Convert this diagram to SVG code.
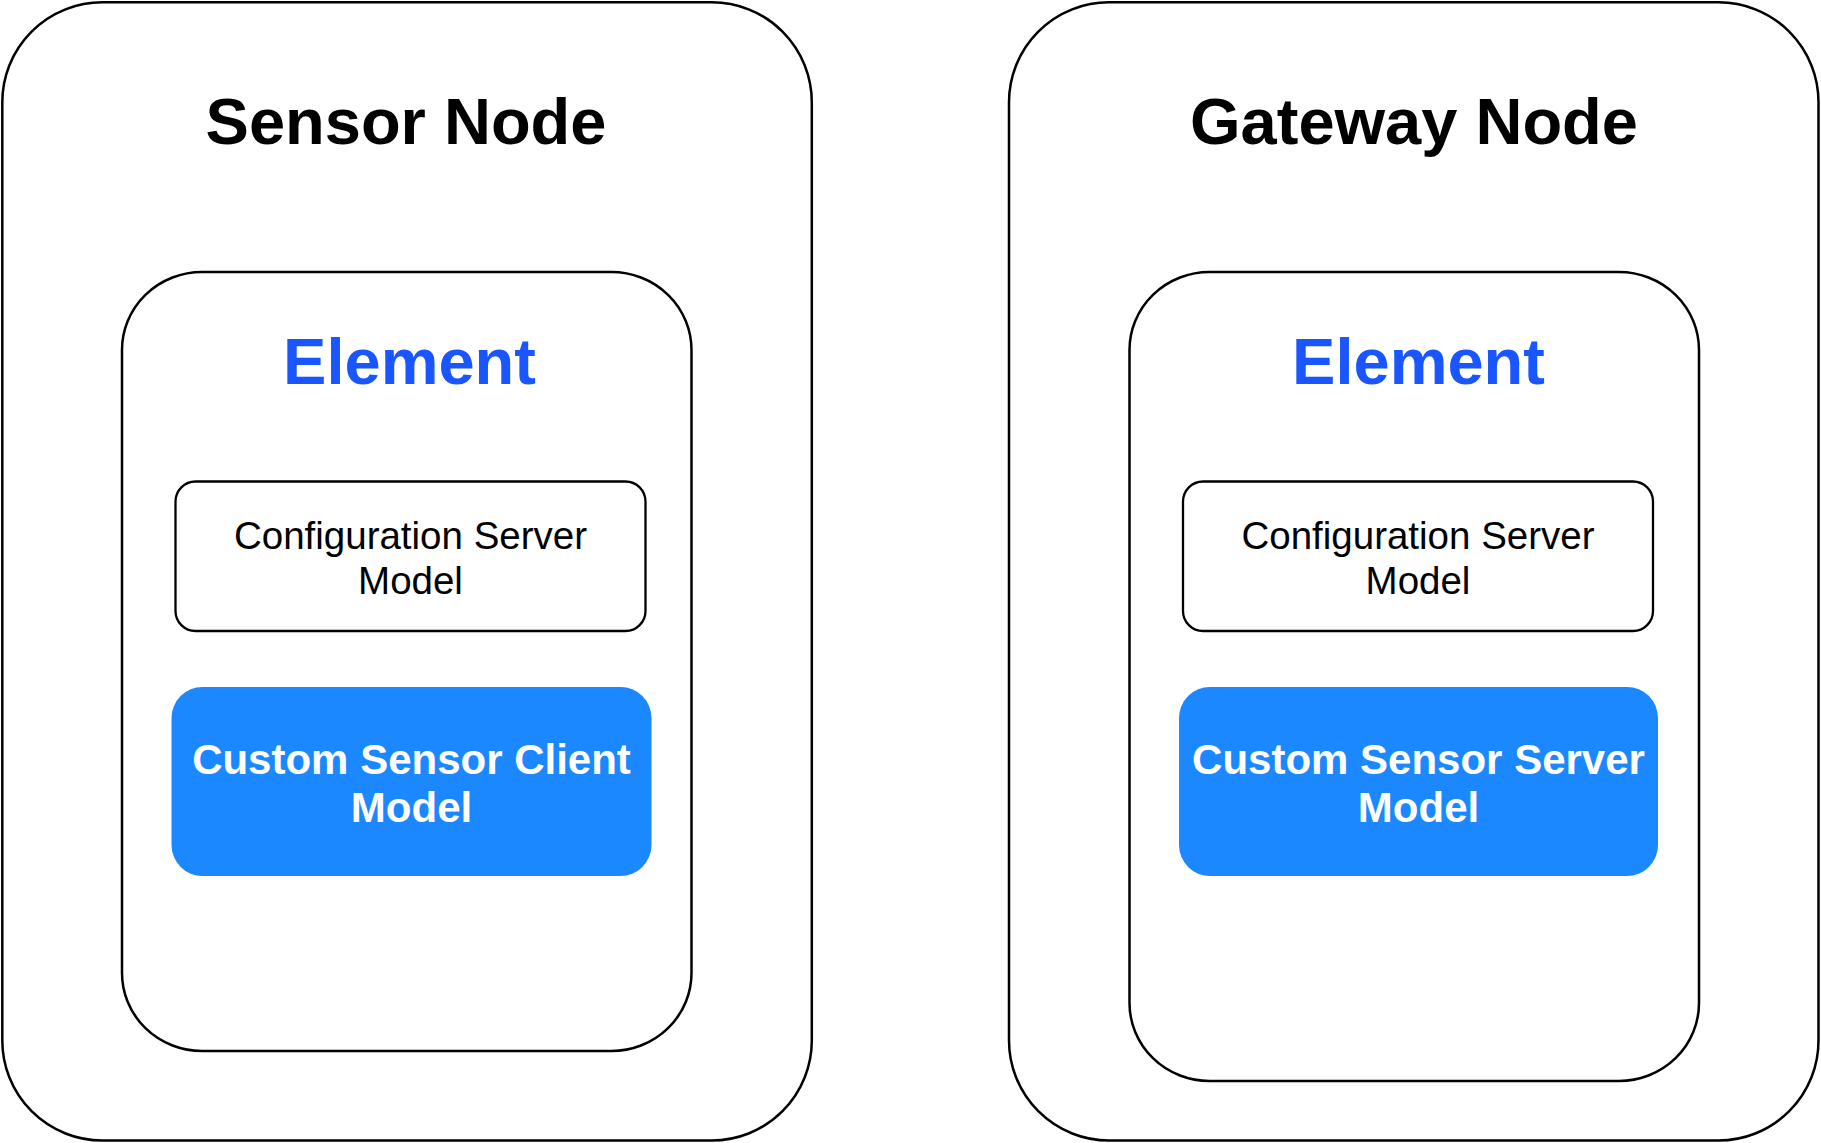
<svg xmlns="http://www.w3.org/2000/svg" width="1821" height="1143" viewBox="0 0 1821 1143">
<style>
.box{fill:#ffffff;stroke:#000000;stroke-width:2.5}
.model{fill:#ffffff;stroke:#000000;stroke-width:2.3}
.blue{fill:#1c88ff;stroke:none}
.title{font-family:"Liberation Sans",Arial,sans-serif;font-weight:bold;font-size:65px;fill:#000000;text-anchor:middle}
.elem{font-family:"Liberation Sans",Arial,sans-serif;font-weight:bold;font-size:65px;fill:#1a56ff;text-anchor:middle}
.cfg{font-family:"Liberation Sans",Arial,sans-serif;font-size:38.5px;fill:#000000;text-anchor:middle}
.cst{font-family:"Liberation Sans",Arial,sans-serif;font-weight:bold;font-size:42px;fill:#ffffff;text-anchor:middle}
</style>
<rect width="1821" height="1143" fill="#ffffff"/>
<g id="sensor-node">
<rect class="box" x="2.3" y="2.3" width="809.5" height="1138.2" rx="100" ry="100"/>
<text class="title" x="406" y="144">Sensor Node</text>
</g>
<g id="sensor-element">
<rect class="box" x="122" y="272" width="569.5" height="779" rx="80" ry="78"/>
<text class="elem" x="409.5" y="384">Element</text>
</g>
<g id="sensor-config">
<rect class="model" x="175.5" y="481.5" width="470" height="149.5" rx="20" ry="20"/>
<text class="cfg" x="410.5" y="549">Configuration Server</text>
<text class="cfg" x="410.5" y="594">Model</text>
</g>
<g id="sensor-client">
<rect class="blue" x="171.5" y="687" width="480" height="189" rx="31" ry="31"/>
<text class="cst" x="411.5" y="774">Custom Sensor Client</text>
<text class="cst" x="411.5" y="822">Model</text>
</g>
<g id="gateway-node">
<rect class="box" x="1009" y="2.3" width="809.5" height="1138.2" rx="100" ry="100"/>
<text class="title" x="1414" y="144">Gateway Node</text>
</g>
<g id="gateway-element">
<rect class="box" x="1129.5" y="272" width="569.5" height="809" rx="80" ry="78"/>
<text class="elem" x="1418.5" y="384">Element</text>
</g>
<g id="gateway-config">
<rect class="model" x="1183" y="481.5" width="470" height="149.5" rx="20" ry="20"/>
<text class="cfg" x="1418" y="549">Configuration Server</text>
<text class="cfg" x="1418" y="594">Model</text>
</g>
<g id="gateway-server">
<rect class="blue" x="1179" y="687" width="479" height="189" rx="31" ry="31"/>
<text class="cst" x="1418.5" y="774">Custom Sensor Server</text>
<text class="cst" x="1418.5" y="822">Model</text>
</g>
<g id="connectors"></g>
</svg>
